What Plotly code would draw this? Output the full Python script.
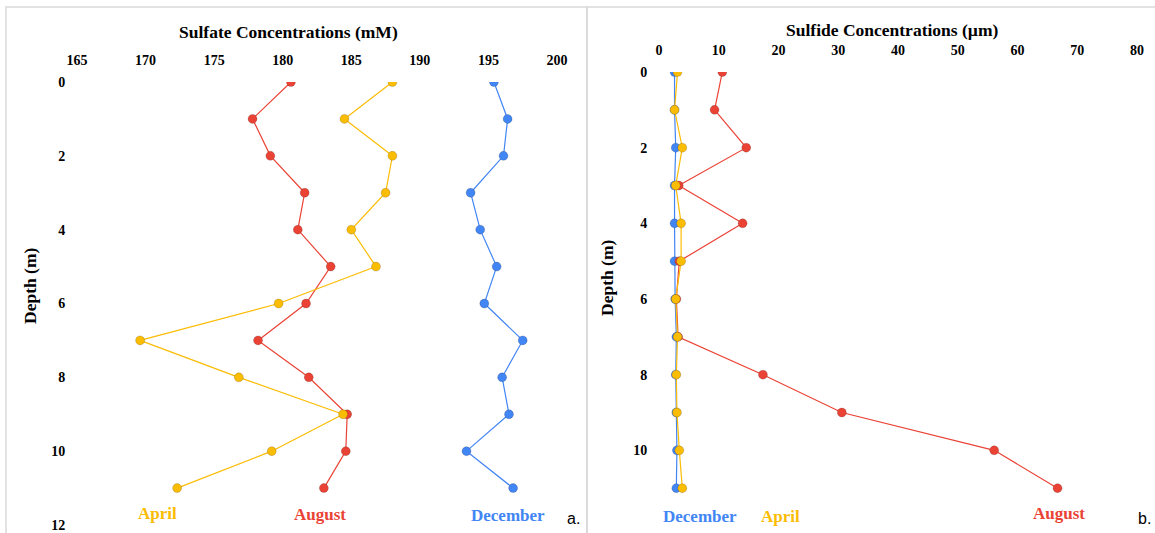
import plotly.graph_objects as go

# Sampling depths (m)
depth = [0, 1, 2, 3, 4, 5, 6, 7, 8, 9, 10, 11]

# Sulfate concentrations (mM)
sulfate_april = [188.0, 184.5, 188.0, 187.5, 185.0, 186.8, 179.7, 169.6, 176.8, 184.4, 179.2, 172.3]
sulfate_august = [180.6, 177.8, 179.1, 181.6, 181.1, 183.5, 181.7, 178.2, 181.9, 184.7, 184.6, 183.0]
sulfate_december = [195.4, 196.4, 196.1, 193.7, 194.4, 195.6, 194.7, 197.5, 196.0, 196.5, 193.4, 196.8]

# Sulfide concentrations (um)
sulfide_april = [3.1, 2.6, 3.9, 2.8, 3.7, 3.7, 2.8, 3.1, 2.9, 3.0, 3.4, 3.9]
sulfide_august = [10.6, 9.3, 14.6, 3.3, 14.0, 3.4, 2.9, 3.2, 17.4, 30.6, 56.1, 66.7]
sulfide_december = [2.6, 2.6, 2.8, 2.6, 2.6, 2.6, 2.7, 2.9, 2.8, 2.9, 3.0, 2.9]

sulfate_ticks = [165, 170, 175, 180, 185, 190, 195, 200]
sulfide_ticks = [0, 10, 20, 30, 40, 50, 60, 70, 80]
depth_ticks = [0, 2, 4, 6, 8, 10, 12]

YELLOW = "#FBBC04"
RED = "#EA4335"
BLUE = "#4285F4"
SERIF = "Liberation Serif, Times New Roman, serif"

W, H = 1155, 533


def px(x):
    return x / W


def py(y):
    return 1 - y / H


fig = go.Figure()


def add_series(x, color, xa, ya):
    fig.add_trace(go.Scatter(
        x=x, y=depth, mode="lines+markers", xaxis=xa, yaxis=ya,
        line=dict(color=color, width=1.2),
        marker=dict(color=color, size=9, line=dict(color="rgba(0,0,0,0.2)", width=0.8)),
        showlegend=False, hoverinfo="x+y",
    ))


# Panel a: sulfate (December behind, April on top)
add_series(sulfate_december, BLUE, "x", "y")
add_series(sulfate_august, RED, "x", "y")
add_series(sulfate_april, YELLOW, "x", "y")
# Panel b: sulfide
add_series(sulfide_december, BLUE, "x2", "y2")
add_series(sulfide_august, RED, "x2", "y2")
add_series(sulfide_april, YELLOW, "x2", "y2")

tickfont = dict(family=SERIF, size=14, color="black", weight="bold")
hidden = "rgba(0,0,0,0)"

xcommon = dict(side="top", showgrid=False, zeroline=False, showline=False,
               ticks="outside", ticklen=10, tickcolor=hidden, automargin=False,
               tickfont=tickfont, fixedrange=True)
ycommon = dict(autorange=False, showgrid=False, zeroline=False, showline=False,
               ticks="outside", ticklen=8, tickcolor=hidden, automargin=False,
               tickvals=depth_ticks, tickfont=tickfont, fixedrange=True)

fig.update_layout(
    template="none",
    width=W, height=H, autosize=False,
    margin=dict(l=0, r=0, t=0, b=0, pad=0),
    paper_bgcolor="white", plot_bgcolor="white",
    xaxis=dict(xcommon, domain=[px(77), px(557)], range=[165, 200],
               tickvals=sulfate_ticks, anchor="y"),
    yaxis=dict(ycommon, domain=[py(525), py(82)], range=[12, 0], anchor="x"),
    xaxis2=dict(xcommon, domain=[px(659), px(1137)], range=[0, 80],
                tickvals=sulfide_ticks, anchor="y2"),
    yaxis2=dict(ycommon, domain=[py(526), py(72)], range=[12, 0], anchor="x2"),
)

# Panel frames
border = dict(color="#D9D9D9", width=1.5)
fig.add_shape(type="rect", xref="paper", yref="paper",
              x0=px(6), x1=px(587), y0=-0.05, y1=py(7), line=border)
fig.add_shape(type="rect", xref="paper", yref="paper",
              x0=px(587), x1=1.05, y0=-0.05, y1=py(7), line=border)


def note(text, x, y, size=17, color="black", bold=True, family=SERIF, angle=0):
    fig.add_annotation(
        text=f"<b>{text}</b>" if bold else text,
        xref="paper", yref="paper", x=px(x), y=py(y),
        xanchor="center", yanchor="middle", showarrow=False,
        textangle=angle, font=dict(family=family, size=size, color=color),
    )


note("Sulfate Concentrations (mM)", 288, 32, size=17.5)
note("Sulfide Concentrations (µm)", 892, 30, size=17.5)
note("Depth (m)", 30, 286, size=17.5, angle=-90)
note("Depth (m)", 607, 278, size=17.5, angle=-90)

note("April", 157, 513, color=YELLOW)
note("August", 320, 514, color=RED)
note("December", 508, 515, color=BLUE)
note("a.", 573, 518, size=16, bold=False, family="Liberation Sans, Arial, sans-serif")

note("December", 700, 516, color=BLUE)
note("April", 780, 516, color=YELLOW)
note("August", 1059, 513, color=RED)
note("b.", 1144, 518, size=16, bold=False, family="Liberation Sans, Arial, sans-serif")

fig.write_html("out.html")
